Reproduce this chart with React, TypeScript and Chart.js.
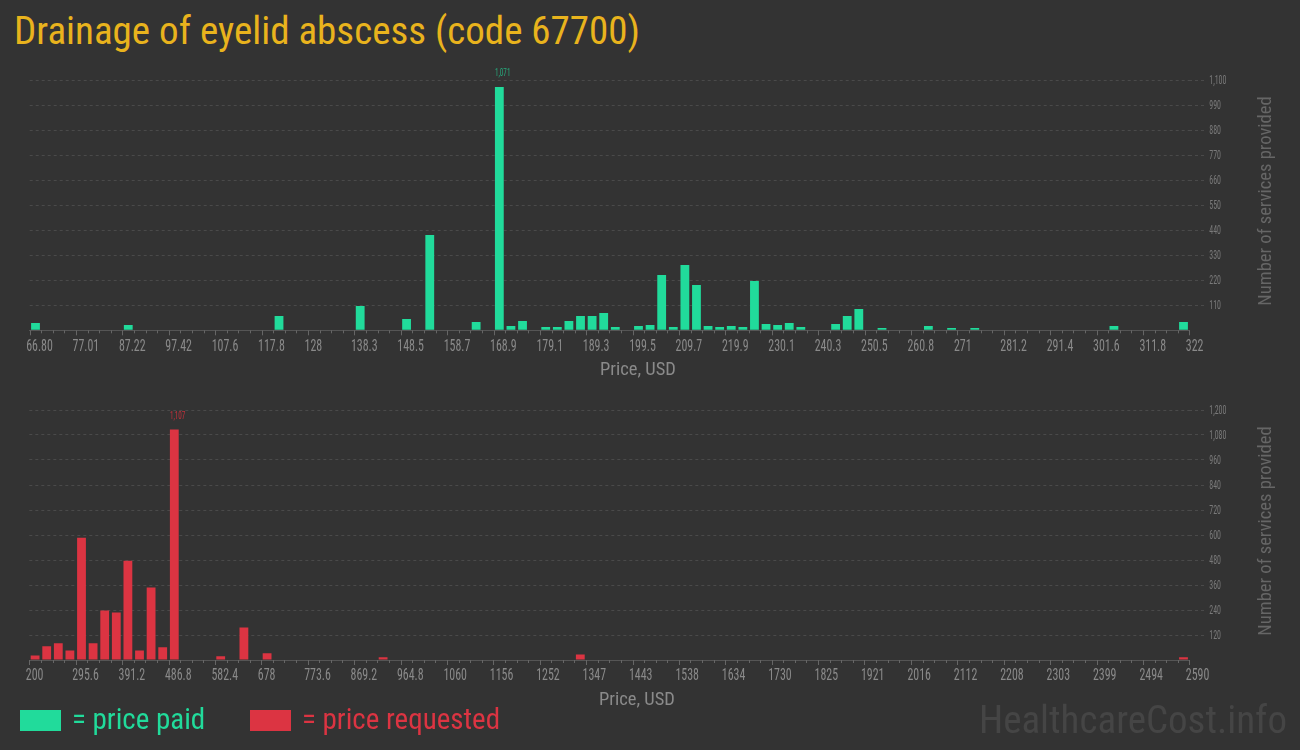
import React, { useEffect, useRef } from 'react';
import { Chart, registerables } from 'chart.js';

Chart.register(...registerables);

// ---------- data ----------
const binCount = 100;

const paidMin = 66.8;
const paidMax = 322;
const paidTickLabels = ['66.80', '77.01', '87.22', '97.42', '107.6', '117.8', '128', '138.3', '148.5', '158.7', '168.9', '179.1', '189.3', '199.5', '209.7', '219.9', '230.1', '240.3', '250.5', '260.8', '271', '281.2', '291.4', '301.6', '311.8', '322'];
const paidBins = [0, 8, 21, 28, 32, 34, 38, 40, 41, 42, 44, 45, 46, 47, 48, 49, 50, 52, 53, 54, 55, 56, 57, 58, 59, 60, 61, 62, 63, 64, 65, 66, 69, 70, 71, 73, 77, 79, 81, 93, 99];
const paidCounts = [32, 23, 63, 107, 50, 419, 37, 1071, 19, 41, 15, 15, 41, 63, 63, 76, 15, 19, 23, 243, 15, 287, 199, 19, 15, 19, 15, 217, 28, 23, 32, 15, 28, 63, 94, 10, 19, 10, 10, 19, 37];
const paidYMax = 1100;
const paidYStep = 110;

const reqMin = 200;
const reqMax = 2590;
const reqTickLabels = ['200', '295.6', '391.2', '486.8', '582.4', '678', '773.6', '869.2', '964.8', '1060', '1156', '1252', '1347', '1443', '1538', '1634', '1730', '1825', '1921', '2016', '2112', '2208', '2303', '2399', '2494', '2590'];
const reqBins = [0, 1, 2, 3, 4, 5, 6, 7, 8, 9, 10, 11, 12, 16, 18, 20, 30, 47, 99];
const reqCounts = [22, 66, 80, 46, 587, 80, 238, 228, 477, 46, 348, 61, 1107, 18, 156, 32, 13, 27, 13];
const reqYMax = 1200;
const reqYStep = 120;

const TITLE = 'Drainage of eyelid abscess (code 67700)';
const X_TITLE = 'Price, USD';
const Y_TITLE = 'Number of services provided';

// ---------- styles ----------
const BG = '#333333';
const GREEN = '#21db9b';
const GREEN_DARK = '#27a97c';
const RED = '#dc3442';
const RED_DARK = '#c3303b';
const COND = "'Roboto Condensed', 'Liberation Sans Narrow', 'DejaVu Sans Condensed', sans-serif";

function drawNarrow(ctx: CanvasRenderingContext2D, text: string, x: number, y: number, sx: number, align: CanvasTextAlign) {
  ctx.save();
  ctx.translate(x, y);
  ctx.scale(sx, 1);
  ctx.textAlign = align;
  ctx.fillText(text, 0, 0);
  ctx.restore();
}

const decorPlugin = {
  id: 'decor',
  afterDraw(chart: any, _args: any, opts: any) {
    const { ctx, chartArea } = chart;
    const x = chart.scales.x;
    const y = chart.scales.y;
    ctx.save();
    // tick marks (one per bin, longer at labelled ticks)
    ctx.strokeStyle = '#666666';
    ctx.lineWidth = 1;
    for (let i = 0; i <= opts.bins; i++) {
      const v = opts.min + (i * (opts.max - opts.min)) / opts.bins;
      const px = Math.round(x.getPixelForValue(v)) + 0.5;
      const len = i % 4 === 0 ? 5 : 3;
      ctx.beginPath();
      ctx.moveTo(px, chartArea.bottom);
      ctx.lineTo(px, chartArea.bottom + len);
      ctx.stroke();
    }
    // x tick labels
    ctx.fillStyle = '#8a8a8a';
    ctx.font = `17px ${COND}`;
    ctx.textBaseline = 'middle';
    const labels: string[] = opts.tickLabels;
    labels.forEach((lab, i) => {
      const v = opts.min + (i * (opts.max - opts.min)) / (labels.length - 1);
      drawNarrow(ctx, lab, x.getPixelForValue(v) - 3.5, chartArea.bottom + 16, 0.7, 'left');
    });
    // y tick labels
    ctx.fillStyle = '#7a7a7a';
    ctx.font = `12.5px ${COND}`;
    y.ticks.forEach((t: any) => {
      if (t.value === 0) return;
      drawNarrow(ctx, Number(t.value).toLocaleString('en-US'), chartArea.right + 20, y.getPixelForValue(t.value) + 0.5, 0.63, 'left');
    });
    // max value label
    const meta = chart.getDatasetMeta(0);
    const data = chart.data.datasets[0].data as any[];
    let idx = 0;
    data.forEach((d, i) => {
      if (d.y > data[idx].y) idx = i;
    });
    const el = meta.data[idx];
    ctx.fillStyle = opts.labelColor;
    ctx.font = `11.5px ${COND}`;
    ctx.textBaseline = 'middle';
    drawNarrow(ctx, data[idx].y.toLocaleString('en-US'), el.x - el.width / 2, el.y - 13.5, 0.62, 'left');
    ctx.restore();
  },
};

type HistProps = {
  min: number;
  max: number;
  tickLabels: string[];
  bins: number[];
  counts: number[];
  color: string;
  labelColor: string;
  yMax: number;
  yStep: number;
  top: number;
  padTop: number;
  padLeft: number;
};

function Hist(p: HistProps) {
  const ref = useRef<HTMLCanvasElement>(null);
  useEffect(() => {
    const binW = (p.max - p.min) / binCount;
    const data = p.bins.map((b, i) => ({ x: p.min + (b + 0.5) * binW, y: p.counts[i] }));
    const tickVals = p.tickLabels.map((_, i) => p.min + (i * (p.max - p.min)) / (p.tickLabels.length - 1));
    const chart = new Chart(ref.current as HTMLCanvasElement, {
      type: 'bar',
      data: {
        datasets: [
          {
            data: data as any,
            backgroundColor: p.color,
            borderWidth: 0,
            barPercentage: 0.76,
            categoryPercentage: 1,
          },
        ],
      },
      options: {
        responsive: false,
        animation: false,
        devicePixelRatio: 1,
        layout: { padding: { left: p.padLeft, top: p.padTop, right: 0, bottom: 0 } },
        plugins: {
          legend: { display: false },
          tooltip: { enabled: false },
          decor: { min: p.min, max: p.max, bins: binCount, labelColor: p.labelColor, tickLabels: p.tickLabels },
        } as any,
        scales: {
          x: {
            type: 'linear',
            min: p.min,
            max: p.max,
            offset: false,
            grid: { display: false, drawTicks: false, offset: false },
            border: { display: true, color: '#555555', width: 1 },
            afterBuildTicks: (s: any) => {
              s.ticks = tickVals.map((v) => ({ value: v }));
            },
            afterFit: (s: any) => {
              s.height = 320 - (p.padTop + 250);
            },
            ticks: { display: false, autoSkip: false, maxRotation: 0 },
          },
          y: {
            position: 'right',
            min: 0,
            max: p.yMax,
            border: { display: false, dash: [3, 3] },
            grid: {
              color: (c: any) => (c.tick && c.tick.value === 0 ? 'rgba(0,0,0,0)' : '#4a4a4a'),
              lineWidth: 1,
              drawTicks: true,
              tickLength: 16,
              tickBorderDash: [3, 3],
            } as any,
            afterFit: (s: any) => {
              s.width = 110.7;
            },
            ticks: {
              stepSize: p.yStep,
              display: false,
            },
          } as any,
        },
      } as any,
      plugins: [decorPlugin as any],
    });
    return () => chart.destroy();
  }, []);
  return (
    <canvas
      ref={ref}
      width={1300}
      height={320}
      style={{ position: 'absolute', left: 0, top: p.top, width: 1300, height: 320 }}
    />
  );
}

const textBase: React.CSSProperties = {
  position: 'absolute',
  whiteSpace: 'nowrap',
  lineHeight: 1,
  fontFamily: COND,
};

export default function App() {
  useEffect(() => {
    document.body.style.margin = '0';
    document.body.style.background = BG;
  }, []);
  return (
    <div style={{ position: 'fixed', left: 0, top: 0, width: 1300, height: 750, background: BG, overflow: 'hidden' }}>
      <div style={{ ...textBase, left: 14, top: 12, fontSize: 39, color: '#e9b31d' }}>{TITLE}</div>

      <Hist
        min={paidMin}
        max={paidMax}
        tickLabels={paidTickLabels}
        bins={paidBins}
        counts={paidCounts}
        color={GREEN}
        labelColor={GREEN_DARK}
        yMax={paidYMax}
        yStep={paidYStep}
        top={60}
        padTop={20.3}
        padLeft={29.7}
      />
      <Hist
        min={reqMin}
        max={reqMax}
        tickLabels={reqTickLabels}
        bins={reqBins}
        counts={reqCounts}
        color={RED}
        labelColor={RED_DARK}
        yMax={reqYMax}
        yStep={reqYStep}
        top={390}
        padTop={20}
        padLeft={29.3}
      />

      <div style={{ ...textBase, left: 638, top: 360, transform: 'translateX(-50%)', fontSize: 18.5, color: '#8a8a8a' }}>{X_TITLE}</div>
      <div style={{ ...textBase, left: 637, top: 690, transform: 'translateX(-50%)', fontSize: 18.5, color: '#8a8a8a' }}>{X_TITLE}</div>

      <div style={{ ...textBase, left: 1265, top: 201, transform: 'translate(-50%, -50%) rotate(-90deg)', fontSize: 18.5, color: '#666666' }}>{Y_TITLE}</div>
      <div style={{ ...textBase, left: 1265, top: 531, transform: 'translate(-50%, -50%) rotate(-90deg)', fontSize: 18.5, color: '#666666' }}>{Y_TITLE}</div>

      <div style={{ position: 'absolute', left: 20, top: 710, width: 41, height: 21, background: GREEN }} />
      <div style={{ ...textBase, left: 72, top: 705, fontSize: 29, color: GREEN }}>= price paid</div>
      <div style={{ position: 'absolute', left: 250, top: 710, width: 41, height: 21, background: RED }} />
      <div style={{ ...textBase, left: 302, top: 705, fontSize: 29, color: RED }}>= price requested</div>

      <div style={{ ...textBase, right: 13, top: 701, fontSize: 39, color: '#454545' }}>HealthcareCost.info</div>
    </div>
  );
}
